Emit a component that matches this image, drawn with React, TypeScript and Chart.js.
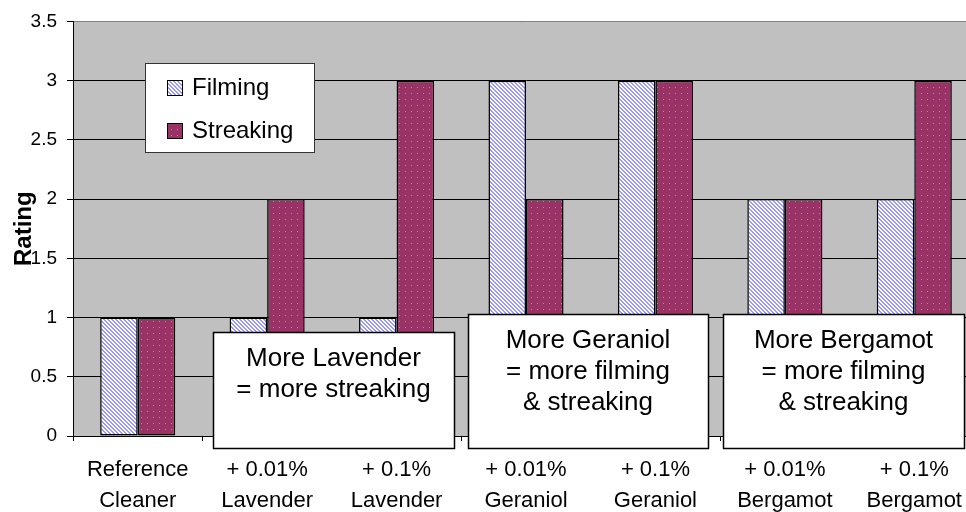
import React, { useEffect, useRef } from 'react';
import { Chart, registerables } from 'chart.js';

Chart.register(...registerables);

// ---------------- data ----------------
const categories: string[][] = [
  ['Reference', 'Cleaner'],
  ['+ 0.01%', 'Lavender'],
  ['+ 0.1%', 'Lavender'],
  ['+ 0.01%', 'Geraniol'],
  ['+ 0.1%', 'Geraniol'],
  ['+ 0.01%', 'Bergamot'],
  ['+ 0.1%', 'Bergamot'],
];
const seriesNames = ['Filming', 'Streaking'];
const filming = [1, 1, 1, 3, 3, 2, 2];
const streaking = [1, 2, 3, 2, 3, 2, 3];
const yMin = 0;
const yMax = 3.5;
const yStep = 0.5;
const axisTitle = 'Rating';
const noteTexts: string[][] = [
  ['More Lavender', '= more streaking'],
  ['More Geraniol', '= more filming', '& streaking'],
  ['More Bergamot', '= more filming', '& streaking'],
];

// ---------------- layout (pixels) ----------------
const FONT = "'Liberation Sans', Arial, sans-serif";
const noteBoxes = [
  { x: 213, y: 332, w: 241, h: 116 },
  { x: 468, y: 314, w: 240, h: 134 },
  { x: 723, y: 314, w: 241, h: 134 },
];
const legendBox = { x: 145, y: 63, w: 169, h: 89 };

function makeStripePattern(): CanvasPattern | string {
  const c = document.createElement('canvas');
  c.width = 4;
  c.height = 4;
  const g = c.getContext('2d');
  if (!g) return '#ffffff';
  g.fillStyle = '#ffffff';
  g.fillRect(0, 0, 4, 4);
  g.fillStyle = '#9999ff';
  for (let y = 0; y < 4; y++) {
    for (let x = 0; x < 4; x++) {
      if ((((x - y) % 4) + 4) % 4 < 2) g.fillRect(x, y, 1, 1);
    }
  }
  return g.createPattern(c, 'repeat') || '#ffffff';
}

function makeDotPattern(): CanvasPattern | string {
  const c = document.createElement('canvas');
  c.width = 6;
  c.height = 6;
  const g = c.getContext('2d');
  if (!g) return '#993366';
  g.fillStyle = '#993366';
  g.fillRect(0, 0, 6, 6);
  g.fillStyle = '#c77fa3';
  g.fillRect(3, 3, 1, 1);
  return g.createPattern(c, 'repeat') || '#993366';
}

export default function App() {
  const ref = useRef<HTMLCanvasElement | null>(null);

  useEffect(() => {
    if (!ref.current) return;
    const stripe = makeStripePattern();
    const dots = makeDotPattern();
    const fills = [stripe, dots];

    const bgPlugin = {
      id: 'plotBg',
      beforeDraw(chart: any) {
        const { ctx, chartArea } = chart;
        ctx.save();
        ctx.fillStyle = '#c0c0c0';
        ctx.fillRect(chartArea.left, chartArea.top, chartArea.right - chartArea.left, chartArea.bottom - chartArea.top);
        ctx.restore();
      },
    };

    const overlayPlugin = {
      id: 'overlay',
      afterDraw(chart: any) {
        const { ctx } = chart;
        ctx.save();
        // legend
        ctx.fillStyle = '#ffffff';
        ctx.fillRect(legendBox.x, legendBox.y, legendBox.w, legendBox.h);
        ctx.strokeStyle = '#333333';
        ctx.lineWidth = 1;
        ctx.strokeRect(legendBox.x + 0.5, legendBox.y + 0.5, legendBox.w, legendBox.h);
        ctx.font = `24px ${FONT}`;
        ctx.textBaseline = 'middle';
        ctx.textAlign = 'left';
        seriesNames.forEach((name, i) => {
          const sy = legendBox.y + 17 + i * 43;
          ctx.fillStyle = fills[i] as any;
          ctx.fillRect(legendBox.x + 22, sy, 16, 16);
          ctx.strokeStyle = '#000000';
          ctx.strokeRect(legendBox.x + 22.5, sy + 0.5, 15, 15);
          ctx.fillStyle = '#000000';
          ctx.fillText(name, legendBox.x + 47, sy + 8);
        });
        // note boxes
        noteBoxes.forEach((b, i) => {
          ctx.fillStyle = '#ffffff';
          ctx.fillRect(b.x, b.y, b.w, b.h);
          ctx.strokeStyle = '#000000';
          ctx.lineWidth = 1.5;
          ctx.strokeRect(b.x + 0.5, b.y + 0.5, b.w, b.h);
          ctx.fillStyle = '#000000';
          ctx.font = `26px ${FONT}`;
          ctx.textAlign = 'center';
          ctx.textBaseline = 'middle';
          noteTexts[i].forEach((line, j) => {
            ctx.fillText(line, b.x + b.w / 2, b.y + 27 + j * 31);
          });
        });
        ctx.restore();
      },
    };

    const chart = new Chart(ref.current, {
      type: 'bar',
      data: {
        labels: categories,
        datasets: [
          {
            label: seriesNames[0],
            data: filming,
            backgroundColor: stripe as any,
            borderColor: '#000000',
            borderWidth: 1.5,
            borderSkipped: false,
          },
          {
            label: seriesNames[1],
            data: streaking,
            backgroundColor: dots as any,
            borderColor: '#000000',
            borderWidth: 1.5,
            borderSkipped: false,
          },
        ],
      },
      options: {
        animation: false,
        responsive: false,
        devicePixelRatio: 1,
        layout: { padding: { top: 20, right: 0, bottom: 0, left: 0 } },
        datasets: { bar: { categoryPercentage: 0.58, barPercentage: 1 } },
        plugins: {
          legend: { display: false },
          tooltip: { enabled: false },
        },
        scales: {
          x: {
            afterFit: (s: any) => {
              s.height = 76;
            },
            grid: {
              drawOnChartArea: false,
              drawTicks: true,
              tickLength: 5,
              color: '#000000',
              offset: true,
            },
            border: { display: true, color: '#000000', width: 1 },
            ticks: {
              color: '#000000',
              padding: 14,
              maxRotation: 0,
              autoSkip: false,
              font: { family: FONT, size: 22, lineHeight: 1.4 },
            },
          },
          y: {
            min: yMin,
            max: yMax,
            afterFit: (s: any) => {
              s.width = 73;
            },
            grid: {
              color: (c: any) => (c.tick && c.tick.value === yMax ? '#808080' : '#000000'),
              tickColor: '#000000',
              tickLength: 6,
              lineWidth: 1,
            },
            border: { display: true, color: '#000000', width: 1 },
            ticks: {
              stepSize: yStep,
              color: '#000000',
              padding: 10,
              font: { family: FONT, size: 19 },
              callback: (v: any) => String(Number(v)),
            },
            title: {
              display: true,
              text: axisTitle,
              color: '#000000',
              padding: { top: 10, bottom: 0 },
              font: { family: FONT, size: 24, weight: 'bold', lineHeight: 1.2 },
            },
          },
        },
      },
      plugins: [bgPlugin, overlayPlugin],
    } as any);

    return () => {
      chart.destroy();
    };
  }, []);

  return (
    <div style={{ position: 'fixed', left: 0, top: 0, width: 966, height: 512, overflow: 'hidden', background: '#ffffff' }}>
      <canvas ref={ref} width={979} height={512} style={{ display: 'block' }} />
    </div>
  );
}
